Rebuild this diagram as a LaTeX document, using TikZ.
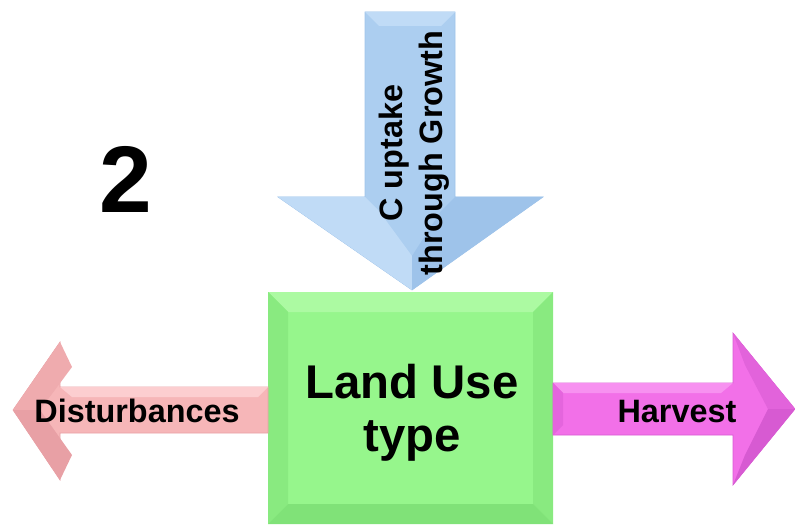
\documentclass[tikz,border=0pt]{standalone}
\usepackage{fontspec}
\setmainfont{Liberation Sans}
\usetikzlibrary{positioning}
\tikzset{>=latex}
\definecolor{upblue}{RGB}{172,206,240}
\definecolor{upblueL}{RGB}{192,219,246}
\definecolor{upblueD}{RGB}{158,195,234}
\definecolor{landgreen}{RGB}{150,246,140}
\definecolor{landgreenL}{RGB}{172,250,162}
\definecolor{landgreenD}{RGB}{128,226,120}
\definecolor{distpink}{RGB}{246,182,184}
\definecolor{distpinkL}{RGB}{252,206,208}
\definecolor{distpinkD}{RGB}{232,160,165}
\definecolor{harvmag}{RGB}{242,112,232}
\definecolor{harvmagL}{RGB}{247,145,240}
\definecolor{harvmagD}{RGB}{215,90,210}

\begin{document}
\begin{tikzpicture}[x=1bp, y=-1bp,
    flowlbl/.style={font=\bfseries\fontsize{32.5}{40}\selectfont, text=black, align=center, inner sep=0pt},
    boxlbl/.style={font=\bfseries\fontsize{47.5}{53}\selectfont, text=black, align=center, inner sep=0pt}]
  \useasboundingbox (0,0) rectangle (795,525);

  % Uptake arrow (down)
  \fill[upblue, draw=upblueD, line width=0.6pt]
    (365,12) -- (455,12) -- (455,197) -- (543,197) -- (412,290)
    -- (278,197) -- (365,197) -- cycle;
  \fill[upblueL] (365,12) -- (455,12) -- (441,26) -- (379,26) -- cycle;
  \fill[upblueL] (278,197) -- (365,197) -- (379,211) -- (412,256) -- (412,290) -- cycle;
  \fill[upblueD] (543,197) -- (455,197) -- (441,211) -- (412,256) -- (412,290) -- cycle;

  % Land use box
  \fill[landgreen] (268,292) rectangle (553,524);
  \fill[landgreenL] (268,292) -- (553,292) -- (533,312) -- (288,312) -- cycle;
  \fill[landgreenD!60!landgreen] (268,292) -- (288,312) -- (288,504) -- (268,524) -- cycle;
  \fill[landgreenD!60!landgreen] (553,292) -- (533,312) -- (533,504) -- (553,524) -- cycle;
  \fill[landgreenD] (268,524) -- (288,504) -- (533,504) -- (553,524) -- cycle;

  % Disturbance arrow (left)
  \fill[distpink, draw=distpinkD, line width=0.6pt]
    (268,387) -- (60,387) -- (60,342) -- (13,410) -- (60,480)
    -- (60,433) -- (268,433) -- cycle;
  \fill[distpinkL] (268,387) -- (60,387) -- (72,397) -- (258,397) -- cycle;
  \fill[distpinkD!50!distpink] (60,342) -- (13,410) -- (40,410) -- (72,367) -- cycle;
  \fill[distpinkD] (60,480) -- (13,410) -- (40,410) -- (72,455) -- cycle;

  % Harvest arrow (right)
  \fill[harvmag, draw=harvmagD, line width=0.6pt]
    (553,383) -- (733,383) -- (733,333) -- (795,409) -- (733,485)
    -- (733,435) -- (553,435) -- cycle;
  \fill[harvmagL] (553,383) -- (733,383) -- (721,393) -- (563,393) -- cycle;
  \fill[harvmagD!50!harvmag] (553,383) -- (563,393) -- (563,425) -- (553,435) -- cycle;
  \fill[harvmagD!60!harvmag] (733,333) -- (795,409) -- (768,409) -- (745,365) -- cycle;
  \fill[harvmagD] (733,485) -- (795,409) -- (768,409) -- (745,455) -- cycle;

  % Labels
  \node[font=\bfseries\fontsize{95}{95}\selectfont, inner sep=0pt] (num) at (126,179) {2};
  \node[flowlbl, rotate=90] (cupt) at (414,153) {C uptake\\through Growth};
  \node[boxlbl] (landuse) at (412,413) {Land Use\\type};
  \node[flowlbl, anchor=base] (dist) at (137,422) {Disturbances};
  \node[flowlbl, anchor=base] (harv) at (677,422) {Harvest};
\end{tikzpicture}
\end{document}
